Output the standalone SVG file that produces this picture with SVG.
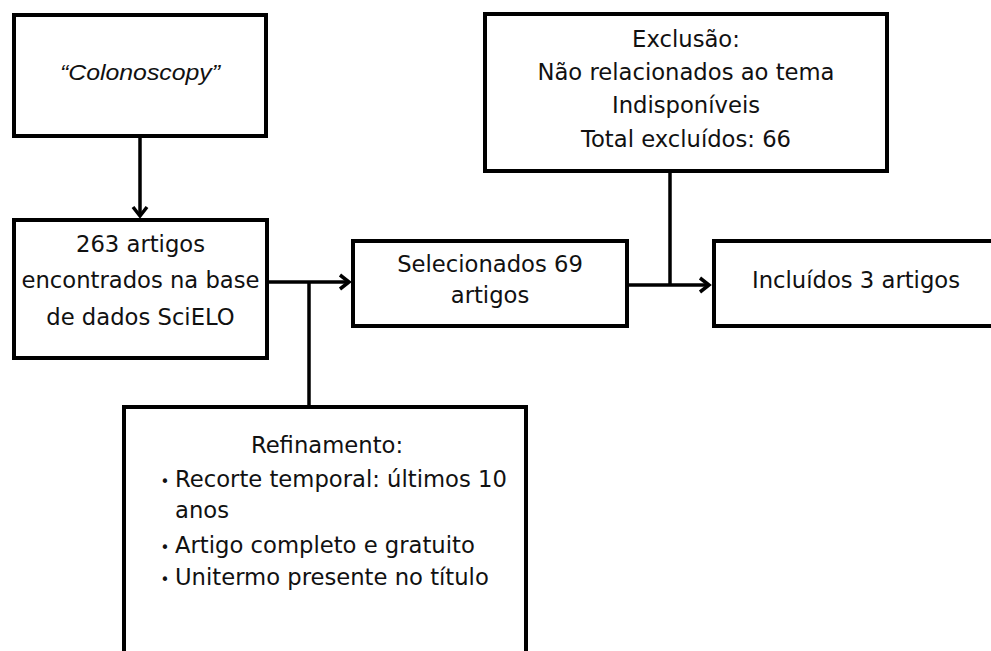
<svg xmlns="http://www.w3.org/2000/svg" width="991" height="651" viewBox="0 0 991 651">
<style>
.box{fill:#fff;stroke:#000;stroke-width:4}
.t{font-family:"DejaVu Sans",sans-serif;font-size:22.7px;fill:#111}
.c{text-anchor:middle}
.b{font-family:"DejaVu Sans",sans-serif;font-size:15px;fill:#111;text-anchor:middle}
.con{stroke:#000;stroke-width:3.5;fill:none}
</style>
<defs>
<marker id="arr" markerUnits="userSpaceOnUse" markerWidth="20" markerHeight="20" viewBox="-12 -10 14 20" refX="0" refY="0" orient="auto">
<path d="M-9,-7 L0,0 L-9,7" fill="none" stroke="#000" stroke-width="3.5" stroke-linejoin="miter"/>
</marker>
</defs>
<rect width="991" height="651" fill="#fff"/>
<g id="connectors">
<line class="con" x1="140" y1="137" x2="140" y2="216" marker-end="url(#arr)"/>
<line class="con" x1="267" y1="282" x2="349" y2="282" marker-end="url(#arr)"/>
<line class="con" x1="309" y1="282" x2="309" y2="406"/>
<line class="con" x1="627" y1="285" x2="709" y2="285" marker-end="url(#arr)"/>
<line class="con" x1="670" y1="171" x2="670" y2="285"/>
</g>
<g id="n-colonoscopy">
<rect class="box" x="14" y="15" width="252" height="121"/>
<text x="140" y="80" font-family="'Liberation Sans',Arial,sans-serif" font-style="italic" font-size="22" fill="#111" text-anchor="middle" textLength="160" lengthAdjust="spacingAndGlyphs">“Colonoscopy”</text>
</g>
<g id="n-scielo">
<rect class="box" x="14" y="220" width="253" height="138"/>
<text class="t c" x="140.5" y="252">263 artigos</text>
<text class="t c" x="140.5" y="288">encontrados na base</text>
<text class="t c" x="140.5" y="325">de dados SciELO</text>
</g>
<g id="n-selecionados">
<rect class="box" x="353" y="241" width="274" height="85"/>
<text class="t c" x="490" y="272">Selecionados 69</text>
<text class="t c" x="490" y="303">artigos</text>
</g>
<g id="n-exclusao">
<rect class="box" x="485" y="14" width="402" height="157"/>
<text class="t c" x="686" y="47">Exclusão:</text>
<text class="t c" x="686" y="80">Não relacionados ao tema</text>
<text class="t c" x="686" y="113">Indisponíveis</text>
<text class="t c" x="686" y="147">Total excluídos: 66</text>
</g>
<g id="n-incluidos">
<rect class="box" x="714" y="241" width="300" height="85"/>
<text class="t" x="752" y="288">Incluídos 3 artigos</text>
</g>
<g id="n-refinamento">
<rect class="box" x="124" y="407" width="402" height="270"/>
<text class="t c" x="327" y="453">Refinamento:</text>
<text class="b" x="165" y="487">•</text>
<text class="t" x="175" y="487">Recorte temporal: últimos 10</text>
<text class="t" x="175" y="518">anos</text>
<text class="b" x="165" y="553">•</text>
<text class="t" x="175" y="553">Artigo completo e gratuito</text>
<text class="b" x="165" y="585">•</text>
<text class="t" x="175" y="585">Unitermo presente no título</text>
</g>
</svg>
